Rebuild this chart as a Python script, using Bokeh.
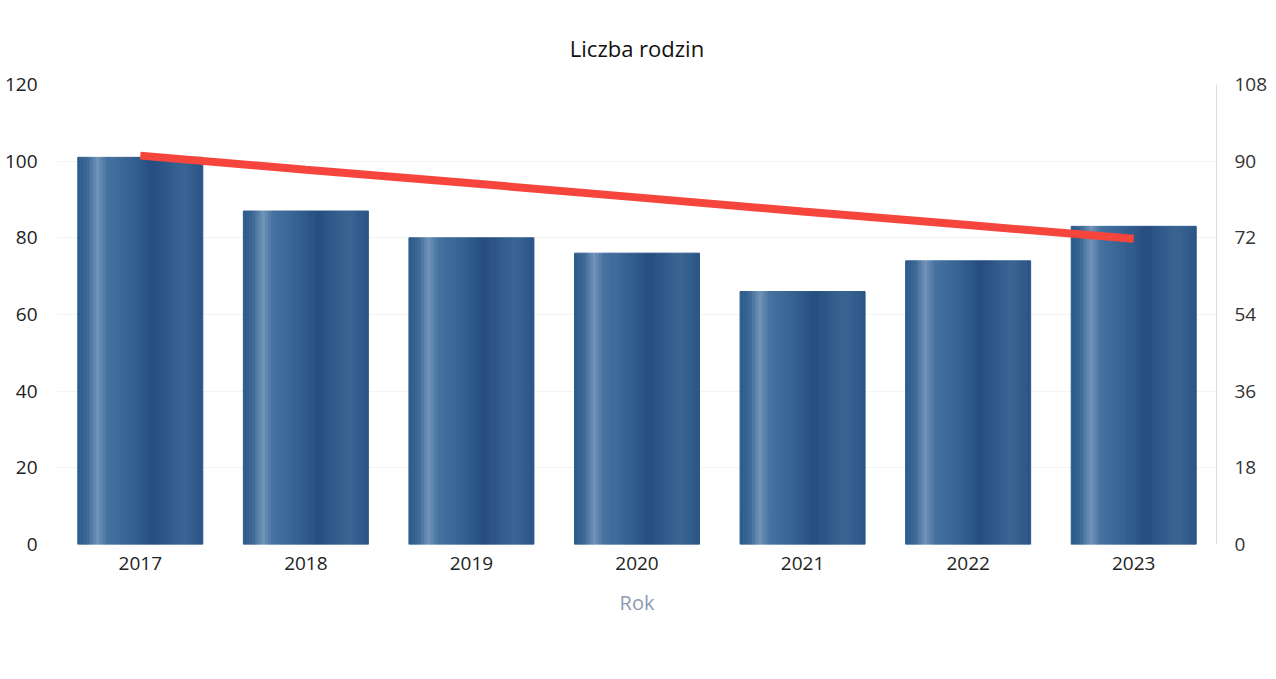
from bokeh.plotting import figure
from bokeh.models import (ColumnDataSource, Range1d, LinearAxis, FixedTicker, Legend,
                          LegendItem, FactorRange)
from bokeh.transform import dodge
from bokeh.embed import file_html
from bokeh.resources import INLINE

# ---- data ----
years = ["2017", "2018", "2019", "2020", "2021", "2022", "2023"]
families = [101, 87, 80, 76, 66, 74, 83]
trend = [91.3, 88.0, 84.8, 81.5, 78.2, 75.0, 71.8]   # plotted on the right axis
left_ticks = [0, 20, 40, 60, 80, 100, 120]
right_ticks = [0, 18, 36, 54, 72, 90, 108]

FONT = "Open Sans"

p = figure(x_range=FactorRange(*years, range_padding=0), y_range=Range1d(0, 120),
           frame_width=1159, frame_height=460,
           min_border_left=57, min_border_right=52, min_border_top=84, min_border_bottom=0,
           output_backend="svg", toolbar_location=None, title="Liczba rodzin")
p.extra_y_ranges = {"right": Range1d(0, 108)}
p.outline_line_color = None
p.background_fill_color = "white"
p.border_fill_color = "white"

p.title.align = "center"
p.title.vertical_align = "top"
p.title.text_font = FONT
p.title.text_font_size = "22px"
p.title.text_font_style = "normal"
p.title.text_color = "#111111"
p.title.standoff = 40

# ---- cylinder-like gradient bars built from thin strips ----
src = ColumnDataSource(dict(year=years, value=families))
stops = [(0.0, (0x2c, 0x5a, 0x8a)), (0.08, (0x3a, 0x68, 0x95)), (0.16, (0x72, 0x93, 0xb8)),
         (0.24, (0x45, 0x72, 0xa0)), (0.36, (0x3b, 0x68, 0x97)), (0.5, (0x2f, 0x5b, 0x8b)),
         (0.6, (0x27, 0x4d, 0x7f)), (0.72, (0x2f, 0x5a, 0x8a)), (0.85, (0x3a, 0x65, 0x93)),
         (1.0, (0x2a, 0x55, 0x86))]

def col_at(t):
    for (t0, c0), (t1, c1) in zip(stops[:-1], stops[1:]):
        if t0 <= t <= t1:
            f = (t - t0) / (t1 - t0)
            c = [round(a + (b - a) * f) for a, b in zip(c0, c1)]
            return "#%02x%02x%02x" % tuple(c)
    return "#2a5586"

BAR_W = 0.755
N = 40
sw = BAR_W / N
bar_renderer = None
for k in range(N):
    t = (k + 0.5) / N
    off = -BAR_W / 2 + (k + 0.5) * sw
    c = col_at(t)
    r = p.vbar(x=dodge("year", off, range=p.x_range), top="value", bottom=0,
               width=sw, source=src, fill_color=c, line_color=c, line_width=1)
    if k == 24:
        bar_renderer = r

# ---- trend line on right axis ----
tsrc = ColumnDataSource(dict(year=years, trend=trend))
trend_r = p.line(x="year", y="trend", source=tsrc, y_range_name="right",
                 line_color="#f5453d", line_width=8, line_cap="butt")

# ---- axes ----
p.yaxis.ticker = FixedTicker(ticks=left_ticks)
for ax in p.yaxis:
    ax.axis_line_color = None
    ax.major_tick_line_color = None
    ax.minor_tick_line_color = None
    ax.major_label_text_font = FONT
    ax.major_label_text_font_size = "19px"
    ax.major_label_text_color = "#222222"
    ax.major_label_standoff = 14

right = LinearAxis(y_range_name="right", ticker=FixedTicker(ticks=right_ticks))
right.axis_line_color = "#d6dde8"
right.axis_line_width = 1
right.major_tick_line_color = None
right.minor_tick_line_color = None
right.major_label_text_font = FONT
right.major_label_text_font_size = "19px"
right.major_label_text_color = "#333333"
right.major_label_standoff = 12
p.add_layout(right, "right")

xa = p.xaxis[0]
xa.axis_line_color = None
xa.major_tick_line_color = None
xa.minor_tick_line_color = None
xa.major_tick_out = 0
xa.major_tick_in = 0
xa.minor_tick_out = 0
xa.major_label_text_font = FONT
xa.major_label_text_font_size = "19px"
xa.major_label_text_color = "#222222"
xa.major_label_standoff = 12
xa.axis_label = "Rok"
xa.axis_label_text_font = FONT
xa.axis_label_text_font_size = "20px"
xa.axis_label_text_font_style = "normal"
xa.axis_label_text_color = "#8c9bb2"
xa.axis_label_text_line_height = 1.0
xa.axis_label_standoff = 16

p.xgrid.grid_line_color = None
p.ygrid.grid_line_color = "#f3f3f3"
p.ygrid.ticker = FixedTicker(ticks=left_ticks)

# ---- legend below the axis title ----
legend = Legend(items=[LegendItem(label="Liczba rodzin", renderers=[bar_renderer]),
                       LegendItem(label="Trend", renderers=[trend_r])],
                orientation="horizontal", location="top",
                label_text_font=FONT, label_text_font_size="18px", label_text_color="#333333",
                label_text_line_height=1.0,
                glyph_width=17, glyph_height=18, spacing=18, padding=0, margin=0,
                border_line_color=None, background_fill_alpha=0, label_standoff=4,
                label_height=18)
p.add_layout(legend, "below")

open("out.html", "w").write(file_html(p, INLINE))
